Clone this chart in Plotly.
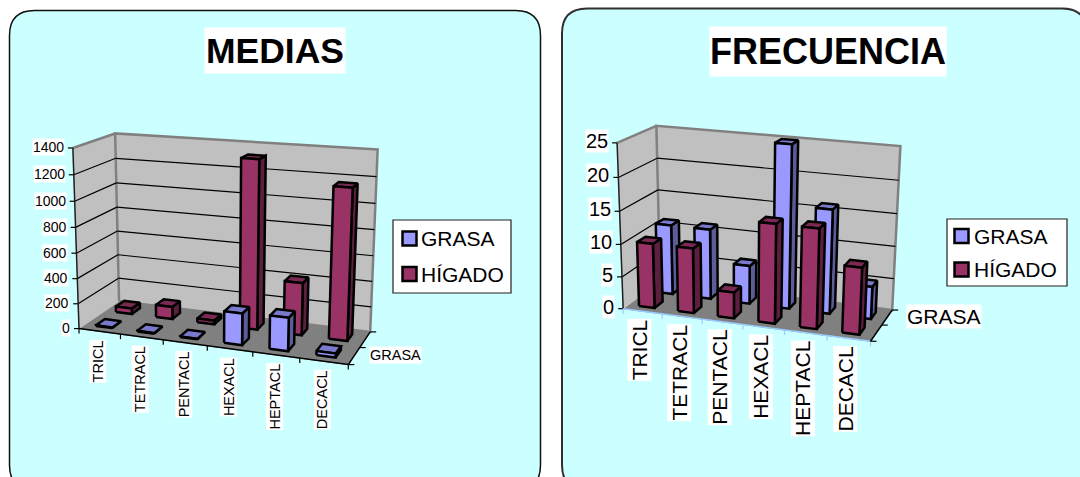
import numpy as np
import plotly.graph_objects as go

categories = ["TRICL", "TETRACL", "PENTACL", "HEXACL", "HEPTACL", "DECACL"]
medias_grasa = [5, 5, 5, 245, 255, 30]
medias_higado = [45, 100, 30, 1320, 410, 1160]
frecuencia_grasa = [11, 11, 6, 25, 16, 5]
frecuencia_higado = [10, 10, 4, 15, 15, 10]
medias_ticks = [0, 200, 400, 600, 800, 1000, 1200, 1400]
frecuencia_ticks = [0, 5, 10, 15, 20, 25]

GRASA = dict(name="GRASA", front="#9999FF", top="#7A7ACC", side="#5C5C99")
HIGADO = dict(name="HÍGADO", front="#993366", top="#7A2952", side="#5C1F3D")
FONT = "Liberation Sans"


def camera(points):
    """Fit a projective camera from (category, depth, height) -> page pixel pairs."""
    rows, rhs = [], []
    for (u, d, h), (x, y) in points:
        X = [u, d, h, 1]
        rows.append(X + [0, 0, 0, 0] + [-x * u, -x * d, -x * h])
        rhs.append(x)
        rows.append([0, 0, 0, 0] + X + [-y * u, -y * d, -y * h])
        rhs.append(y)
    p = np.linalg.lstsq(np.array(rows, float), np.array(rhs, float), rcond=None)[0]
    P = np.append(p, 1).reshape(3, 4)

    def project(u, d, h):
        q = P @ np.array([u, d, h, 1.0])
        return q[0] / q[2], q[1] / q[2]

    return project


fig = go.Figure()
annotations, shapes = [], []


def poly(pts, fill, line="black", width=2.5, name=None):
    xs = [p[0] for p in pts] + [pts[0][0]]
    ys = [p[1] for p in pts] + [pts[0][1]]
    fig.add_trace(go.Scatter(
        x=xs, y=ys, mode="lines", fill="toself", fillcolor=fill, name=name,
        line=dict(color=line, width=width), hoverinfo="skip", showlegend=False))


def seg(a, b, color="black", width=1.2):
    fig.add_trace(go.Scatter(
        x=[a[0], b[0]], y=[a[1], b[1]], mode="lines",
        line=dict(color=color, width=width), hoverinfo="skip", showlegend=False))


def label(x, y, text, size, xanchor="center", yanchor="middle", angle=0, bold=False,
          w=None, h=None, bg="white"):
    annotations.append(dict(
        x=x, y=y, xref="x", yref="y", text=f"<b>{text}</b>" if bold else text,
        showarrow=False, xanchor=xanchor, yanchor=yanchor, textangle=angle,
        bgcolor=bg, borderpad=0, width=w, height=h,
        font=dict(family=FONT, size=size, color="black")))


def rounded(x0, y0, x1, y1, r, color, width):
    shapes.append(dict(
        type="path", xref="x", yref="y", layer="below",
        path=(f"M{x0+r},{y0} L{x1-r},{y0} Q{x1},{y0} {x1},{y0+r} L{x1},{y1-r} "
              f"Q{x1},{y1} {x1-r},{y1} L{x0+r},{y1} Q{x0},{y1} {x0},{y1-r} "
              f"L{x0},{y0+r} Q{x0},{y0} {x0+r},{y0} Z"),
        fillcolor="#CCFFFF", line=dict(color=color, width=width)))


def bar(project, u, d, h, style, half_w=0.2, half_d=0.22):
    c = u + 0.47
    l, r, f, b = c - half_w, c + half_w, d - half_d, d + half_d
    poly([project(r, f, 0), project(r, b, 0), project(r, b, h), project(r, f, h)],
         style["side"], name=style["name"])
    poly([project(l, f, h), project(r, f, h), project(r, b, h), project(l, b, h)],
         style["top"], name=style["name"])
    poly([project(l, f, 0), project(r, f, 0), project(r, f, h), project(l, f, h)],
         style["front"], name=style["name"])


def panel(project, ticks, rows, tick_size, cat_size, depth_size, depth_xy,
          cat_dx, cat_dy, x_axis_color, tick_dx, tick_dy):
    n = len(categories)
    top = ticks[-1]
    # floor and walls
    poly([project(0, 0, 0), project(n, 0, 0), project(n, 2, 0), project(0, 2, 0)],
         "#808080", line="#808080", width=1)
    poly([project(0, 0, 0), project(0, 2, 0), project(0, 2, 1), project(0, 0, 1)],
         "#C0C0C0", line="#C0C0C0", width=1)
    poly([project(0, 2, 0), project(n, 2, 0), project(n, 2, 1), project(0, 2, 1)],
         "#C0C0C0", line="#808080", width=2.5)
    seg(project(0, 0, 1), project(0, 2, 1), "#808080", 2.5)
    # gridlines and value axis
    for t in ticks[1:-1]:
        h = t / top
        seg(project(0, 0, h), project(0, 2, h))
        seg(project(0, 2, h), project(n, 2, h))
    seg(project(0, 0, 0), project(0, 0, 1), "#202020", 1.5)
    for t in ticks:
        x, y = project(0, 0, t / top)
        seg((x - 5, y), (x, y))
        label(x - tick_dx, y + tick_dy, str(t), tick_size, xanchor="right")
    # category axis
    seg(project(0, 0, 0), project(n, 0, 0), x_axis_color, 1.5)
    for i in range(n + 1):
        x, y = project(i, 0, 0)
        seg((x, y), (x, y + 5), x_axis_color)
    for i, c in enumerate(categories):
        x, y = project(i + 0.5, 0, 0)
        label(x + cat_dx, y + cat_dy, c, cat_size, yanchor="top", angle=-90)
    # depth axis
    seg(project(n, 0, 0), project(n, 2, 0), "black", 1.5)
    for d in range(3):
        x, y = project(n, d, 0)
        seg((x, y), (x + 6, y))
    label(depth_xy[0], depth_xy[1], "GRASA", depth_size)
    # bars, far row first and left to right
    for d, values, style in rows:
        for i, v in enumerate(values):
            bar(project, i, d, v / top, style)


def legend(x0, y0, x1, y1, sw_x, sw_ys, text_x, size):
    shapes.append(dict(type="rect", xref="x", yref="y", x0=x0, y0=y0, x1=x1, y1=y1,
                       fillcolor="white", line=dict(color="#202020", width=1.2)))
    for (sy0, sy1), style in zip(sw_ys, (GRASA, HIGADO)):
        shapes.append(dict(type="rect", xref="x", yref="y", x0=sw_x, x1=sw_x + 14,
                           y0=sy0, y1=sy1, fillcolor=style["front"],
                           line=dict(color="black", width=2.5)))
        label(text_x, (sy0 + sy1) / 2, style["name"], size, xanchor="left", bg=None)


# panel backgrounds
rounded(9.5, 10.5, 540.5, 490, 25, "#101010", 1.5)
rounded(562, 8.5, 1087, 490, 25, "#303030", 2)

# MEDIAS
medias_cam = camera([
    ((0, 0, 0), (79, 328)), ((0, 0, 1), (73, 147)), ((0, 2, 1), (115, 134)),
    ((0, 2, 0), (119, 302)), ((6, 2, 1), (377, 149)), ((6, 2, 0), (371, 331)),
    ((6, 0, 0), (348, 365)), ((6, 0, 1), (356, 168)),
    ((1, 0, 0), (121, 334)), ((2, 0, 0), (163, 340)), ((3, 0, 0), (207, 346)),
    ((4, 0, 0), (253, 352)), ((5, 0, 0), (299, 358)),
])
panel(medias_cam, medias_ticks,
      [(1.5, medias_higado, HIGADO), (0.5, medias_grasa, GRASA)],
      14, 14.5, 14.5, (395, 355), -1.5, 8, "black", 8, -0.5)
label(275, 50.5, "MEDIAS", 35.5, bold=True, w=140, h=45)
legend(393, 220, 511, 293, 402.5, [(231.5, 245.5), (267, 281)], 420, 21)

# FRECUENCIA
frecuencia_cam = camera([
    ((0, 0, 0), (623, 308)), ((0, 0, 1), (617, 140)), ((0, 2, 1), (657, 127)),
    ((0, 2, 0), (661, 284)), ((6, 2, 1), (899, 142)), ((6, 2, 0), (892, 310)),
    ((6, 0, 0), (873, 340)), ((6, 0, 1), (879, 172)),
    ((1, 0, 0), (662, 313)), ((2, 0, 0), (702, 319)), ((3, 0, 0), (742, 325)),
    ((4, 0, 0), (783, 330)), ((5, 0, 0), (827, 335)),
])
panel(frecuencia_cam, frecuencia_ticks,
      [(1.5, frecuencia_grasa, GRASA), (0.5, frecuencia_higado, HIGADO)],
      20, 21, 21, (944, 316.5), -3, 7, "#99CCFF", 8, -2)
label(828, 51.5, "FRECUENCIA", 36, bold=True, w=236, h=49)
legend(947, 219, 1067, 286, 954.5, [(229, 243), (262.5, 276.5)], 972.5, 21)

fig.update_layout(
    width=1080, height=477, margin=dict(l=0, r=0, t=0, b=0),
    paper_bgcolor="white", plot_bgcolor="white",
    xaxis=dict(range=[0, 1080], visible=False, fixedrange=True),
    yaxis=dict(range=[477, 0], visible=False, fixedrange=True),
    shapes=shapes, annotations=annotations, showlegend=False,
)
fig.write_html("out.html", config=dict(displayModeBar=False))
